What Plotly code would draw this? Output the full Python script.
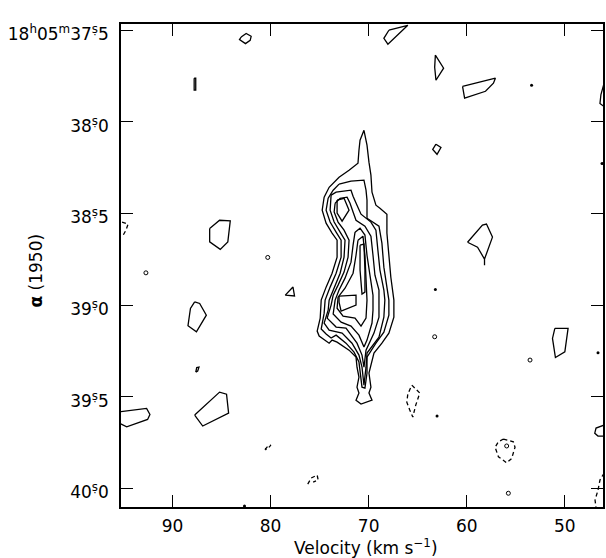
import plotly.graph_objects as go

# ---------------- axes -----------------
vel_range = [95.25, 46.11]
ra_range = [40.102, 37.466]
vel_ticks = [90, 80, 70, 60, 50]
vel_tick_text = ["90", "80", "70", "60", "50"]
ra_ticks = [37.5, 38.0, 38.5, 39.0, 39.5, 40.0]
ra_tick_text = ["18<sup>h</sup>05<sup>m</sup>37<sup>ṣ</sup>5", "38<sup>ṣ</sup>0", "38<sup>ṣ</sup>5",
                "39<sup>ṣ</sup>0", "39<sup>ṣ</sup>5", "40<sup>ṣ</sup>0"]

# ---------------- main source contours (velocity km/s, RA seconds) -----------------
lvl1_vel = [70.48, 70.17, 69.97, 69.77, 69.66, 69.26, 68.85, 68.14, 68.14, 67.94, 67.74, 67.43, 67.43,
            67.94, 68.65, 69.46, 69.97, 69.77, 69.97, 69.66, 70.78, 71.29, 70.99, 71.19, 70.99, 71.19,
            71.29, 72.00, 73.22, 73.73, 74.03, 75.05, 75.25, 74.94, 74.84, 74.34, 73.73, 73.22, 73.22,
            73.73, 74.34, 74.74, 74.54, 74.03, 73.02, 72.00, 71.09, 70.99, 70.88, 70.48]
lvl1_ra = [38.046, 38.127, 38.220, 38.291, 38.384, 38.455, 38.471, 38.504, 38.607, 38.717, 38.848, 38.973,
           39.066, 39.153, 39.208, 39.262, 39.371, 39.448, 39.480, 39.519, 39.540, 39.519, 39.480, 39.448,
           39.393, 39.339, 39.284, 39.246, 39.202, 39.191, 39.208, 39.169, 39.142, 39.071, 38.973, 38.902,
           38.826, 38.738, 38.646, 38.607, 38.553, 38.482, 38.411, 38.357, 38.302, 38.264, 38.226, 38.155,
           38.100, 38.046]

lvl2_vel = [73.02, 71.80, 70.48, 70.27, 70.17, 70.17, 68.95, 68.65, 68.45, 68.14, 67.94, 67.94, 68.45,
            69.26, 70.17, 70.17, 70.38, 70.68, 70.99, 71.49, 72.31, 73.32, 73.83, 74.34, 74.84, 74.54,
            74.44, 73.93, 73.32, 72.81, 72.81, 73.32, 73.93, 74.34, 74.13, 73.62]
lvl2_ra = [38.340, 38.324, 38.318, 38.373, 38.427, 38.526, 38.569, 38.662, 38.793, 38.918, 38.973, 39.055,
           39.148, 39.208, 39.284, 39.371, 39.453, 39.448, 39.311, 39.257, 39.208, 39.164, 39.180, 39.158,
           39.131, 39.044, 38.973, 38.902, 38.826, 38.738, 38.646, 38.602, 38.547, 38.482, 38.417, 38.373]

lvl3_vel = [73.83, 73.32, 71.80, 71.59, 71.19, 70.78, 69.77, 69.26, 69.06, 68.85, 68.45, 68.35, 68.45,
            68.95, 70.17, 70.27, 70.48, 70.68, 70.99, 71.70, 72.71, 74.03, 74.54, 74.13, 74.03, 73.52,
            72.91, 72.51, 72.41, 72.91, 73.52, 73.93]
lvl3_ra = [38.400, 38.384, 38.373, 38.406, 38.455, 38.504, 38.547, 38.591, 38.700, 38.809, 38.918, 38.973,
           39.066, 39.175, 39.262, 39.339, 39.437, 39.339, 39.273, 39.208, 39.153, 39.137, 39.098, 39.028,
           38.973, 38.902, 38.826, 38.738, 38.646, 38.602, 38.547, 38.482]

lvl4_vel = [73.42, 72.91, 72.20, 71.90, 71.59, 71.29, 70.38, 69.77, 69.56, 69.36, 68.95, 68.95, 69.46,
            70.27, 70.48, 70.68, 71.19, 72.31, 73.32, 74.23, 73.83, 73.62, 73.12, 72.51, 72.10, 72.00,
            72.51, 73.12, 73.52]
lvl4_ra = [38.444, 38.417, 38.411, 38.444, 38.492, 38.537, 38.569, 38.624, 38.728, 38.837, 38.918, 39.066,
           39.153, 39.246, 39.339, 39.273, 39.208, 39.126, 39.120, 39.071, 39.000, 38.946, 38.891, 38.820,
           38.738, 38.646, 38.591, 38.547, 38.492]

north_peak_vel = [73.22, 72.51, 72.00, 72.71, 73.22]
north_peak_ra = [38.427, 38.417, 38.482, 38.542, 38.498]

lvl5_vel = [71.39, 70.88, 70.38, 70.17, 69.87, 69.56, 69.56, 69.66, 70.17, 70.48, 70.99, 71.80, 72.81,
            73.62, 73.42, 73.02, 72.41, 71.80, 71.59]
lvl5_ra = [38.602, 38.580, 38.618, 38.728, 38.837, 38.946, 39.028, 39.098, 39.191, 39.229, 39.164, 39.115,
           39.093, 39.049, 38.973, 38.918, 38.853, 38.766, 38.673]

lvl6_vel = [71.09, 70.58, 70.38, 70.27, 70.17, 70.27, 70.78, 71.39, 72.61, 73.22, 73.12, 72.41, 71.59, 71.29]
lvl6_ra = [38.646, 38.624, 38.728, 38.864, 38.973, 39.071, 39.115, 39.071, 39.060, 39.017, 38.957, 38.908,
           38.826, 38.728]

south_peak_vel = [73.02, 71.29, 71.29, 72.81, 73.02]
south_peak_ra = [38.951, 38.946, 39.000, 39.033, 38.984]

ridge_vel = [70.88, 70.48, 70.38, 70.38, 70.68, 70.88]
ridge_ra = [38.673, 38.667, 38.809, 38.929, 38.940, 38.809]

# ---------------- isolated positive (solid) contours -----------------
blob_a_vel = [83.00, 82.49, 81.98, 82.08, 82.56, 83.17]
blob_a_ra = [37.537, 37.518, 37.533, 37.555, 37.573, 37.551]
blob_b_vel = [87.79, 87.63, 87.63, 87.79]
blob_b_ra = [37.762, 37.762, 37.827, 37.827]
blob_c_vel = [67.94, 66.01, 68.04, 68.45]
blob_c_ra = [37.500, 37.473, 37.576, 37.544]
blob_d_vel = [63.20, 62.36, 63.14, 63.27]
blob_d_ra = [37.636, 37.707, 37.773, 37.702]
blob_e_vel = [60.43, 57.08, 57.28, 58.09, 60.22]
blob_e_ra = [37.806, 37.762, 37.789, 37.833, 37.871]
blob_f_vel = [46.00, 46.32, 46.42, 46.00]
blob_f_ra = [37.789, 37.851, 37.900, 37.916]
blob_g_vel = [63.14, 62.63, 63.03, 63.47]
blob_g_ra = [38.122, 38.140, 38.177, 38.151]
blob_h_vel = [59.92, 58.40, 57.99, 57.38, 58.19, 58.19, 58.19, 58.90]
blob_h_ra = [38.657, 38.564, 38.558, 38.629, 38.749, 38.782, 38.749, 38.684]
blob_i_vel = [51.02, 49.67, 50.00, 50.96, 51.26]
blob_i_ra = [39.127, 39.127, 39.255, 39.286, 39.182]
blob_j_vel = [46.00, 46.82, 46.95, 46.62, 46.00]
blob_j_ra = [39.655, 39.671, 39.699, 39.715, 39.715]
blob_k_vel = [95.35, 92.64, 92.30, 92.54, 94.67, 95.35]
blob_k_ra = [39.582, 39.564, 39.597, 39.624, 39.664, 39.646]
blob_l_vel = [87.74, 85.20, 84.49, 84.28, 86.92]
blob_l_ra = [39.600, 39.475, 39.486, 39.590, 39.660]
blob_m_vel = [86.21, 85.20, 84.11, 84.36, 85.13, 86.21]
blob_m_ra = [38.582, 38.537, 38.540, 38.655, 38.696, 38.655]
blob_n_vel = [77.72, 77.56, 78.50]
blob_n_ra = [38.901, 38.950, 38.946]
blob_o_vel = [87.74, 87.23, 86.55, 87.56, 88.42, 88.17]
blob_o_ra = [38.982, 38.991, 39.055, 39.146, 39.113, 39.018]
blob_p_vel = [87.63, 87.53, 87.30, 87.43]
blob_p_ra = [39.366, 39.341, 39.339, 39.360]

# ---------------- negative (dashed) contours -----------------
neg_a_vel = [65.60, 64.79, 65.20, 65.50, 65.81, 66.11, 66.01]
neg_a_ra = [39.437, 39.480, 39.546, 39.611, 39.573, 39.530, 39.486]
neg_b_vel = [56.26, 55.25, 55.08, 55.42, 55.93, 56.77, 57.11, 56.77]
neg_b_ra = [39.731, 39.746, 39.776, 39.837, 39.861, 39.828, 39.776, 39.746]
neg_c_vel = [80.58, 80.23, 79.97, 80.33]
neg_c_ra = [39.789, 39.767, 39.764, 39.786]
neg_d_vel = [76.21, 75.86, 75.25, 75.15, 75.66]
neg_d_ra = [39.977, 39.944, 39.928, 39.955, 39.966]
neg_e_vel = [95.14, 94.53, 94.74, 95.14]
neg_e_ra = [38.547, 38.558, 38.591, 38.629]
neg_f_vel = [46.00, 46.42, 46.62, 46.92, 46.82]
neg_f_ra = [39.917, 39.955, 40.010, 40.064, 40.108]

# ---------------- single-pixel features -----------------
dot_vel = [53.39, 46.21, 63.20, 46.62, 63.03, 82.66]
dot_ra = [37.800, 38.227, 38.915, 39.260, 39.606, 40.097]
ring_vel = [63.27, 53.55, 92.71, 55.76, 55.93, 80.29]
ring_ra = [39.173, 39.300, 38.824, 40.027, 39.769, 38.740]

closed_solid = [
    (lvl1_vel, lvl1_ra), (lvl2_vel, lvl2_ra), (lvl3_vel, lvl3_ra), (lvl4_vel, lvl4_ra),
    (north_peak_vel, north_peak_ra), (lvl5_vel, lvl5_ra), (lvl6_vel, lvl6_ra),
    (south_peak_vel, south_peak_ra), (ridge_vel, ridge_ra),
    (blob_a_vel, blob_a_ra), (blob_b_vel, blob_b_ra), (blob_c_vel, blob_c_ra), (blob_d_vel, blob_d_ra),
    (blob_e_vel, blob_e_ra), (blob_g_vel, blob_g_ra), (blob_h_vel, blob_h_ra), (blob_i_vel, blob_i_ra),
    (blob_k_vel, blob_k_ra), (blob_l_vel, blob_l_ra), (blob_m_vel, blob_m_ra), (blob_n_vel, blob_n_ra),
    (blob_o_vel, blob_o_ra), (blob_p_vel, blob_p_ra),
]
open_solid = [(blob_f_vel, blob_f_ra), (blob_j_vel, blob_j_ra)]
closed_dashed = [(neg_a_vel, neg_a_ra), (neg_b_vel, neg_b_ra), (neg_c_vel, neg_c_ra)]
open_dashed = [(neg_d_vel, neg_d_ra), (neg_e_vel, neg_e_ra), (neg_f_vel, neg_f_ra)]

fig = go.Figure()


def add_line(xs, ys, close, dash):
    if close:
        xs = list(xs) + [xs[0]]
        ys = list(ys) + [ys[0]]
    fig.add_trace(go.Scatter(x=xs, y=ys, mode="lines",
                             line=dict(color="black", width=1.3, dash=dash),
                             showlegend=False, hoverinfo="skip"))


for xs, ys in closed_solid:
    add_line(xs, ys, True, "solid")
for xs, ys in open_solid:
    add_line(xs, ys, False, "solid")
for xs, ys in closed_dashed:
    add_line(xs, ys, True, "4px,3px")
for xs, ys in open_dashed:
    add_line(xs, ys, False, "4px,3px")

fig.add_trace(go.Scatter(x=dot_vel, y=dot_ra, mode="markers",
                         marker=dict(color="black", size=3), showlegend=False, hoverinfo="skip",
                         cliponaxis=True))
fig.add_trace(go.Scatter(x=ring_vel, y=ring_ra, mode="markers",
                         marker=dict(color="black", size=4, symbol="circle-open", line=dict(width=1)),
                         showlegend=False, hoverinfo="skip", cliponaxis=True))

tick_font = dict(family="DejaVu Sans", size=17, color="black")
axis_common = dict(ticks="inside", ticklen=12, tickwidth=1.3, tickcolor="black",
                   showline=True, linecolor="black", linewidth=1.5, mirror="ticks",
                   showgrid=False, zeroline=False, tickfont=tick_font)

fig.update_layout(
    width=606, height=558,
    margin=dict(l=121, r=1, t=24, b=51),
    paper_bgcolor="white", plot_bgcolor="white",
    xaxis=dict(range=vel_range, tickvals=vel_ticks, ticktext=vel_tick_text,
               ticklabelstandoff=3, **axis_common),
    yaxis=dict(range=ra_range, tickvals=ra_ticks, ticktext=ra_tick_text,
               ticklabelstandoff=7, ticklabelshift=-4, **axis_common),
    annotations=[
        dict(text="Velocity (km s<sup>−1</sup>)", xref="paper", yref="paper",
             x=0.508, y=-0.083, xanchor="center", yanchor="middle", showarrow=False,
             font=dict(family="DejaVu Sans", size=17, color="black")),
        dict(text="<b>α</b> (1950)", xref="paper", yref="paper", textangle=-90,
             x=-0.176, y=0.49, xanchor="center", yanchor="middle", showarrow=False,
             font=dict(family="DejaVu Sans", size=17, color="black")),
    ],
)

fig.write_html("out.html")
